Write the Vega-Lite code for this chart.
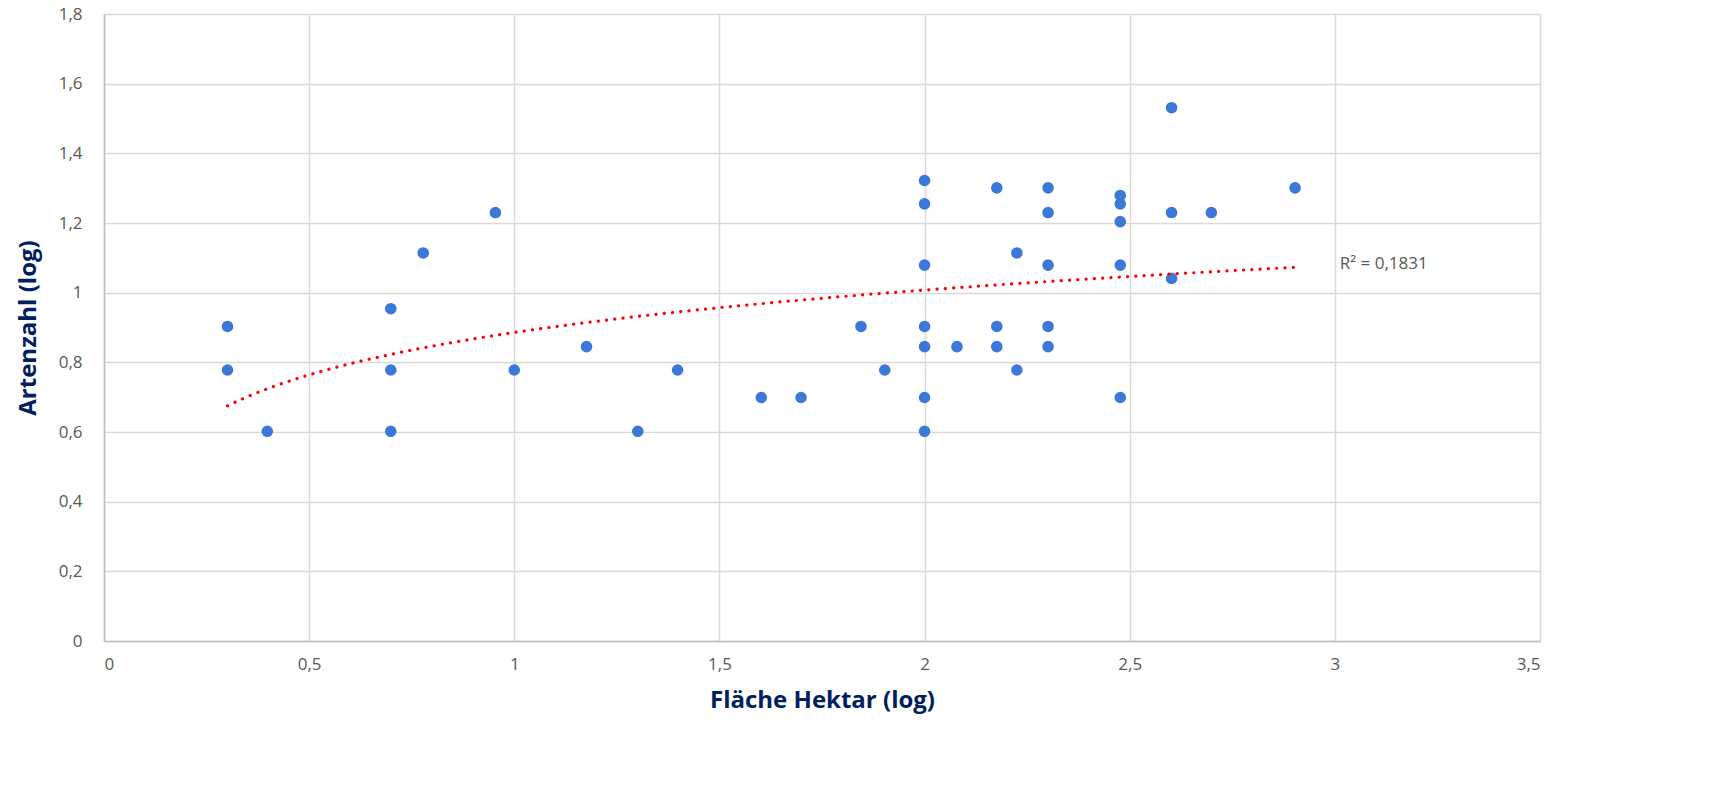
{
  "$schema": "https://vega.github.io/schema/vega-lite/v6.json",
  "width": 1436,
  "height": 627,
  "autosize": "none",
  "padding": {"left": 104, "top": 14, "right": 181, "bottom": 154},
  "background": "white",
  "config": {
    "locale": {"number": {"decimal": ",", "thousands": ".", "grouping": [3], "currency": ["", " €"]}},
    "view": {"stroke": null},
    "font": "Lato",
    "axis": {
      "grid": true,
      "gridColor": "#d9d9d9",
      "gridWidth": 1.5,
      "domainColor": "#bfbfbf",
      "domainWidth": 1.5,
      "ticks": false,
      "labelFontSize": 17,
      "labelColor": "#595959",
      "labelFont": "Open Sans",
      "titleFontSize": 24,
      "titleFontWeight": "bold",
      "titleColor": "#002060",
      "titleFont": "Open Sans"
    }
  },
  "data": {
    "values": [
      {"flaeche": 0.301, "arten": 0.903},
      {"flaeche": 0.301, "arten": 0.778},
      {"flaeche": 0.398, "arten": 0.602},
      {"flaeche": 0.699, "arten": 0.954},
      {"flaeche": 0.699, "arten": 0.778},
      {"flaeche": 0.699, "arten": 0.602},
      {"flaeche": 0.778, "arten": 1.114},
      {"flaeche": 0.954, "arten": 1.230},
      {"flaeche": 1.0, "arten": 0.778},
      {"flaeche": 1.176, "arten": 0.845},
      {"flaeche": 1.301, "arten": 0.602},
      {"flaeche": 1.398, "arten": 0.778},
      {"flaeche": 1.602, "arten": 0.699},
      {"flaeche": 1.699, "arten": 0.699},
      {"flaeche": 1.845, "arten": 0.903},
      {"flaeche": 1.903, "arten": 0.778},
      {"flaeche": 2.0, "arten": 1.322},
      {"flaeche": 2.0, "arten": 1.255},
      {"flaeche": 2.0, "arten": 1.079},
      {"flaeche": 2.0, "arten": 0.903},
      {"flaeche": 2.0, "arten": 0.845},
      {"flaeche": 2.0, "arten": 0.699},
      {"flaeche": 2.0, "arten": 0.602},
      {"flaeche": 2.079, "arten": 0.845},
      {"flaeche": 2.176, "arten": 1.301},
      {"flaeche": 2.176, "arten": 0.903},
      {"flaeche": 2.176, "arten": 0.845},
      {"flaeche": 2.225, "arten": 1.114},
      {"flaeche": 2.225, "arten": 0.778},
      {"flaeche": 2.301, "arten": 1.301},
      {"flaeche": 2.301, "arten": 1.230},
      {"flaeche": 2.301, "arten": 1.079},
      {"flaeche": 2.301, "arten": 0.903},
      {"flaeche": 2.301, "arten": 0.845},
      {"flaeche": 2.477, "arten": 1.279},
      {"flaeche": 2.477, "arten": 1.255},
      {"flaeche": 2.477, "arten": 1.204},
      {"flaeche": 2.477, "arten": 1.079},
      {"flaeche": 2.477, "arten": 0.699},
      {"flaeche": 2.602, "arten": 1.531},
      {"flaeche": 2.602, "arten": 1.230},
      {"flaeche": 2.602, "arten": 1.041},
      {"flaeche": 2.699, "arten": 1.230},
      {"flaeche": 2.903, "arten": 1.301}
    ]
  },
  "layer": [
    {
      "mark": {"type": "circle", "size": 135, "color": "#3c78d8", "opacity": 1},
      "encoding": {
        "x": {
          "field": "flaeche",
          "type": "quantitative",
          "scale": {"domain": [0, 3.5], "nice": false, "zero": false},
          "axis": {
            "title": "Fläche Hektar (log)",
            "values": [0, 0.5, 1, 1.5, 2, 2.5, 3, 3.5],
            "format": ".1~f",
            "labelPadding": 15,
            "titlePadding": 16
          }
        },
        "y": {
          "field": "arten",
          "type": "quantitative",
          "scale": {"domain": [0, 1.8], "nice": false, "zero": false},
          "axis": {
            "title": "Artenzahl (log)",
            "values": [0, 0.2, 0.4, 0.6, 0.8, 1, 1.2, 1.4, 1.6, 1.8],
            "format": ".1~f",
            "labelPadding": 22,
            "titlePadding": 18
          }
        }
      }
    },
    {
      "transform": [{"regression": "arten", "on": "flaeche", "method": "log"}],
      "mark": {"type": "line", "color": "#ff0000", "strokeWidth": 3.2, "strokeCap": "round", "strokeDash": [0.1, 8.2]},
      "encoding": {
        "x": {"field": "flaeche", "type": "quantitative"},
        "y": {"field": "arten", "type": "quantitative"}
      }
    },
    {
      "transform": [{"regression": "arten", "on": "flaeche", "method": "log", "params": true}],
      "mark": {"type": "text", "text": "R² = 0,1831", "align": "left", "baseline": "middle", "fontSize": 17, "color": "#595959", "font": "Open Sans"},
      "encoding": {
        "x": {"datum": 3.012, "type": "quantitative"},
        "y": {"datum": 1.082, "type": "quantitative"}
      }
    }
  ]
}
